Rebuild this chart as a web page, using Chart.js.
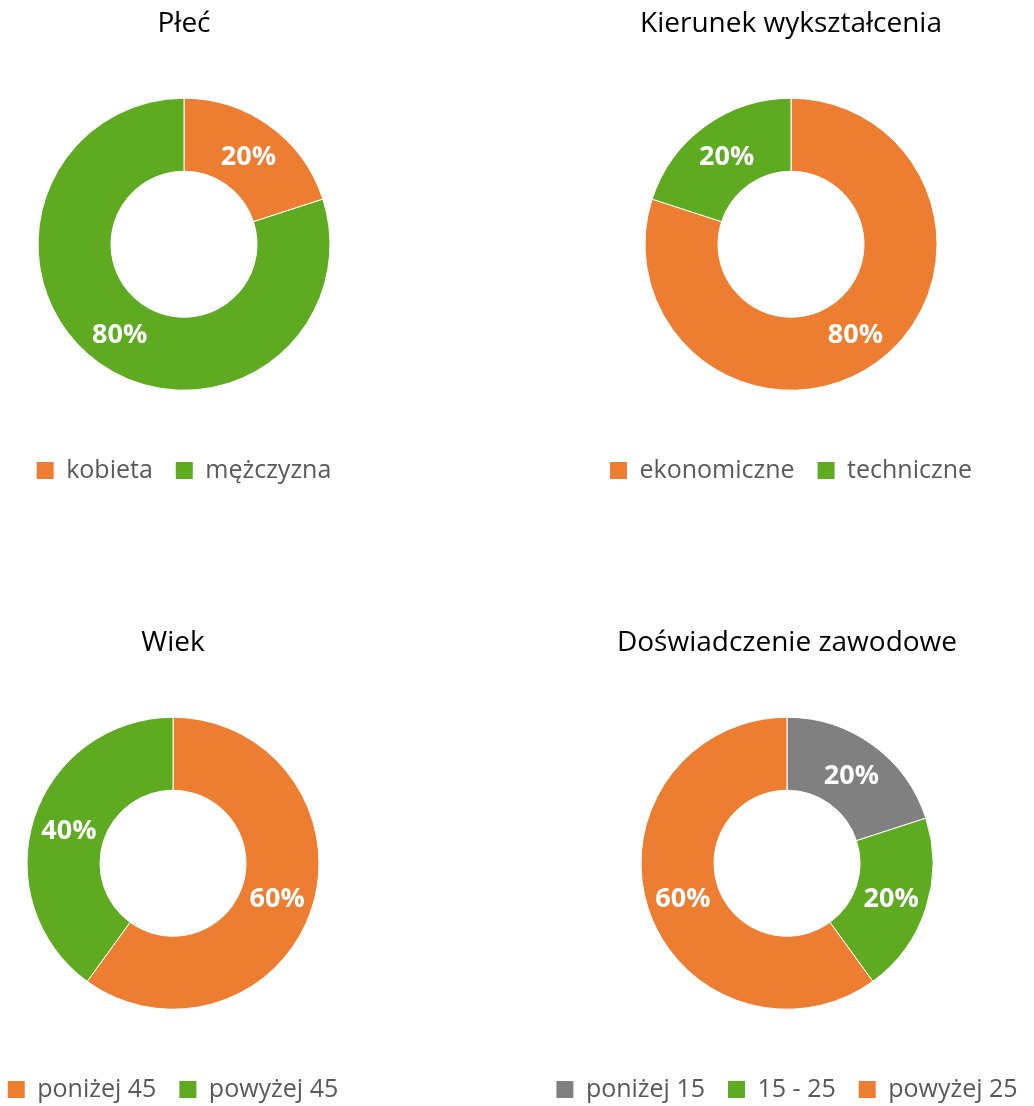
<!DOCTYPE html>
<html><head><meta charset="utf-8">
<script src="https://cdn.jsdelivr.net/npm/chart.js@4/dist/chart.umd.min.js"></script>
<style>
html,body{margin:0;padding:0;background:#fff;overflow:hidden;width:1034px;height:1106px;position:relative}
canvas{position:absolute}
</style></head><body>
<canvas id="c1" width="420" height="493" style="left:-26px;top:0px"></canvas>
<canvas id="c2" width="486" height="493" style="left:548px;top:0px"></canvas>
<canvas id="c3" width="420" height="493" style="left:-37px;top:619px"></canvas>
<canvas id="c4" width="540" height="493" style="left:517px;top:619px"></canvas>
<script>
// ---- data ----
const titles = ['Płeć', 'Kierunek wykształcenia', 'Wiek', 'Doświadczenie zawodowe'];
const plecLabels = ['kobieta', 'mężczyzna'];
const plecValues = [20, 80];
const kierunekLabels = ['ekonomiczne', 'techniczne'];
const kierunekValues = [80, 20];
const wiekLabels = ['poniżej 45', 'powyżej 45'];
const wiekValues = [60, 40];
const doswLabels = ['poniżej 15', '15 - 25', 'powyżej 25'];
const doswValues = [20, 20, 60];

const ORANGE = '#ED7D31', GREEN = '#5EAB22', GRAY = '#808080';
const plecColors = [ORANGE, GREEN];
const kierunekColors = [ORANGE, GREEN];
const wiekColors = [ORANGE, GREEN];
const doswColors = [GRAY, GREEN, ORANGE];

const FONT = '"Open Sans", "Liberation Sans", sans-serif';

const pctLabels = {
  id: 'pctLabels',
  afterDatasetsDraw(chart) {
    const ctx = chart.ctx;
    const ds = chart.data.datasets[0];
    const meta = chart.getDatasetMeta(0);
    const total = ds.data.reduce((a, b) => a + b, 0);
    ctx.save();
    ctx.font = 'bold 27px ' + FONT;
    ctx.fillStyle = '#ffffff';
    ctx.textAlign = 'center';
    ctx.textBaseline = 'middle';
    meta.data.forEach((arc, i) => {
      const p = arc.tooltipPosition();
      ctx.fillText(Math.round(ds.data[i] / total * 100) + '%', p.x, p.y + 2);
    });
    ctx.restore();
  }
};

function legendItems(chart) {
  const items = Chart.overrides.doughnut.plugins.legend.labels.generateLabels(chart);
  items.forEach(it => { it.lineWidth = 0; it.strokeStyle = 'rgba(0,0,0,0)'; });
  return items;
}

function makeChart(id, title, labels, values, colors) {
  return new Chart(document.getElementById(id), {
    type: 'doughnut',
    data: {
      labels: labels,
      datasets: [{
        data: values,
        backgroundColor: colors,
        borderColor: '#ffffff',
        borderWidth: 1,
        radius: 146,
        cutout: '50%'
      }]
    },
    options: {
      responsive: false,
      animation: false,
      devicePixelRatio: 1,
      layout: { padding: 0 },
      plugins: {
        tooltip: { enabled: false },
        title: {
          display: true,
          text: title,
          color: '#000000',
          font: { family: FONT, size: 28, weight: 'normal', lineHeight: 1.2 },
          padding: { top: 7.2, bottom: 12.7 }
        },
        legend: {
          display: true,
          position: 'bottom',
          labels: {
            color: '#595959',
            font: { family: FONT, size: 25 },
            boxWidth: 17,
            boxHeight: 17,
            padding: 23,
            generateLabels: legendItems
          }
        }
      }
    },
    plugins: [pctLabels]
  });
}

function draw() {
  makeChart('c1', titles[0], plecLabels, plecValues, plecColors);
  makeChart('c2', titles[1], kierunekLabels, kierunekValues, kierunekColors);
  makeChart('c3', titles[2], wiekLabels, wiekValues, wiekColors);
  makeChart('c4', titles[3], doswLabels, doswValues, doswColors);
}
Promise.all([
  document.fonts.load('28px "Open Sans"'),
  document.fonts.load('bold 27px "Open Sans"')
]).then(draw, draw);
</script>
</body></html>
